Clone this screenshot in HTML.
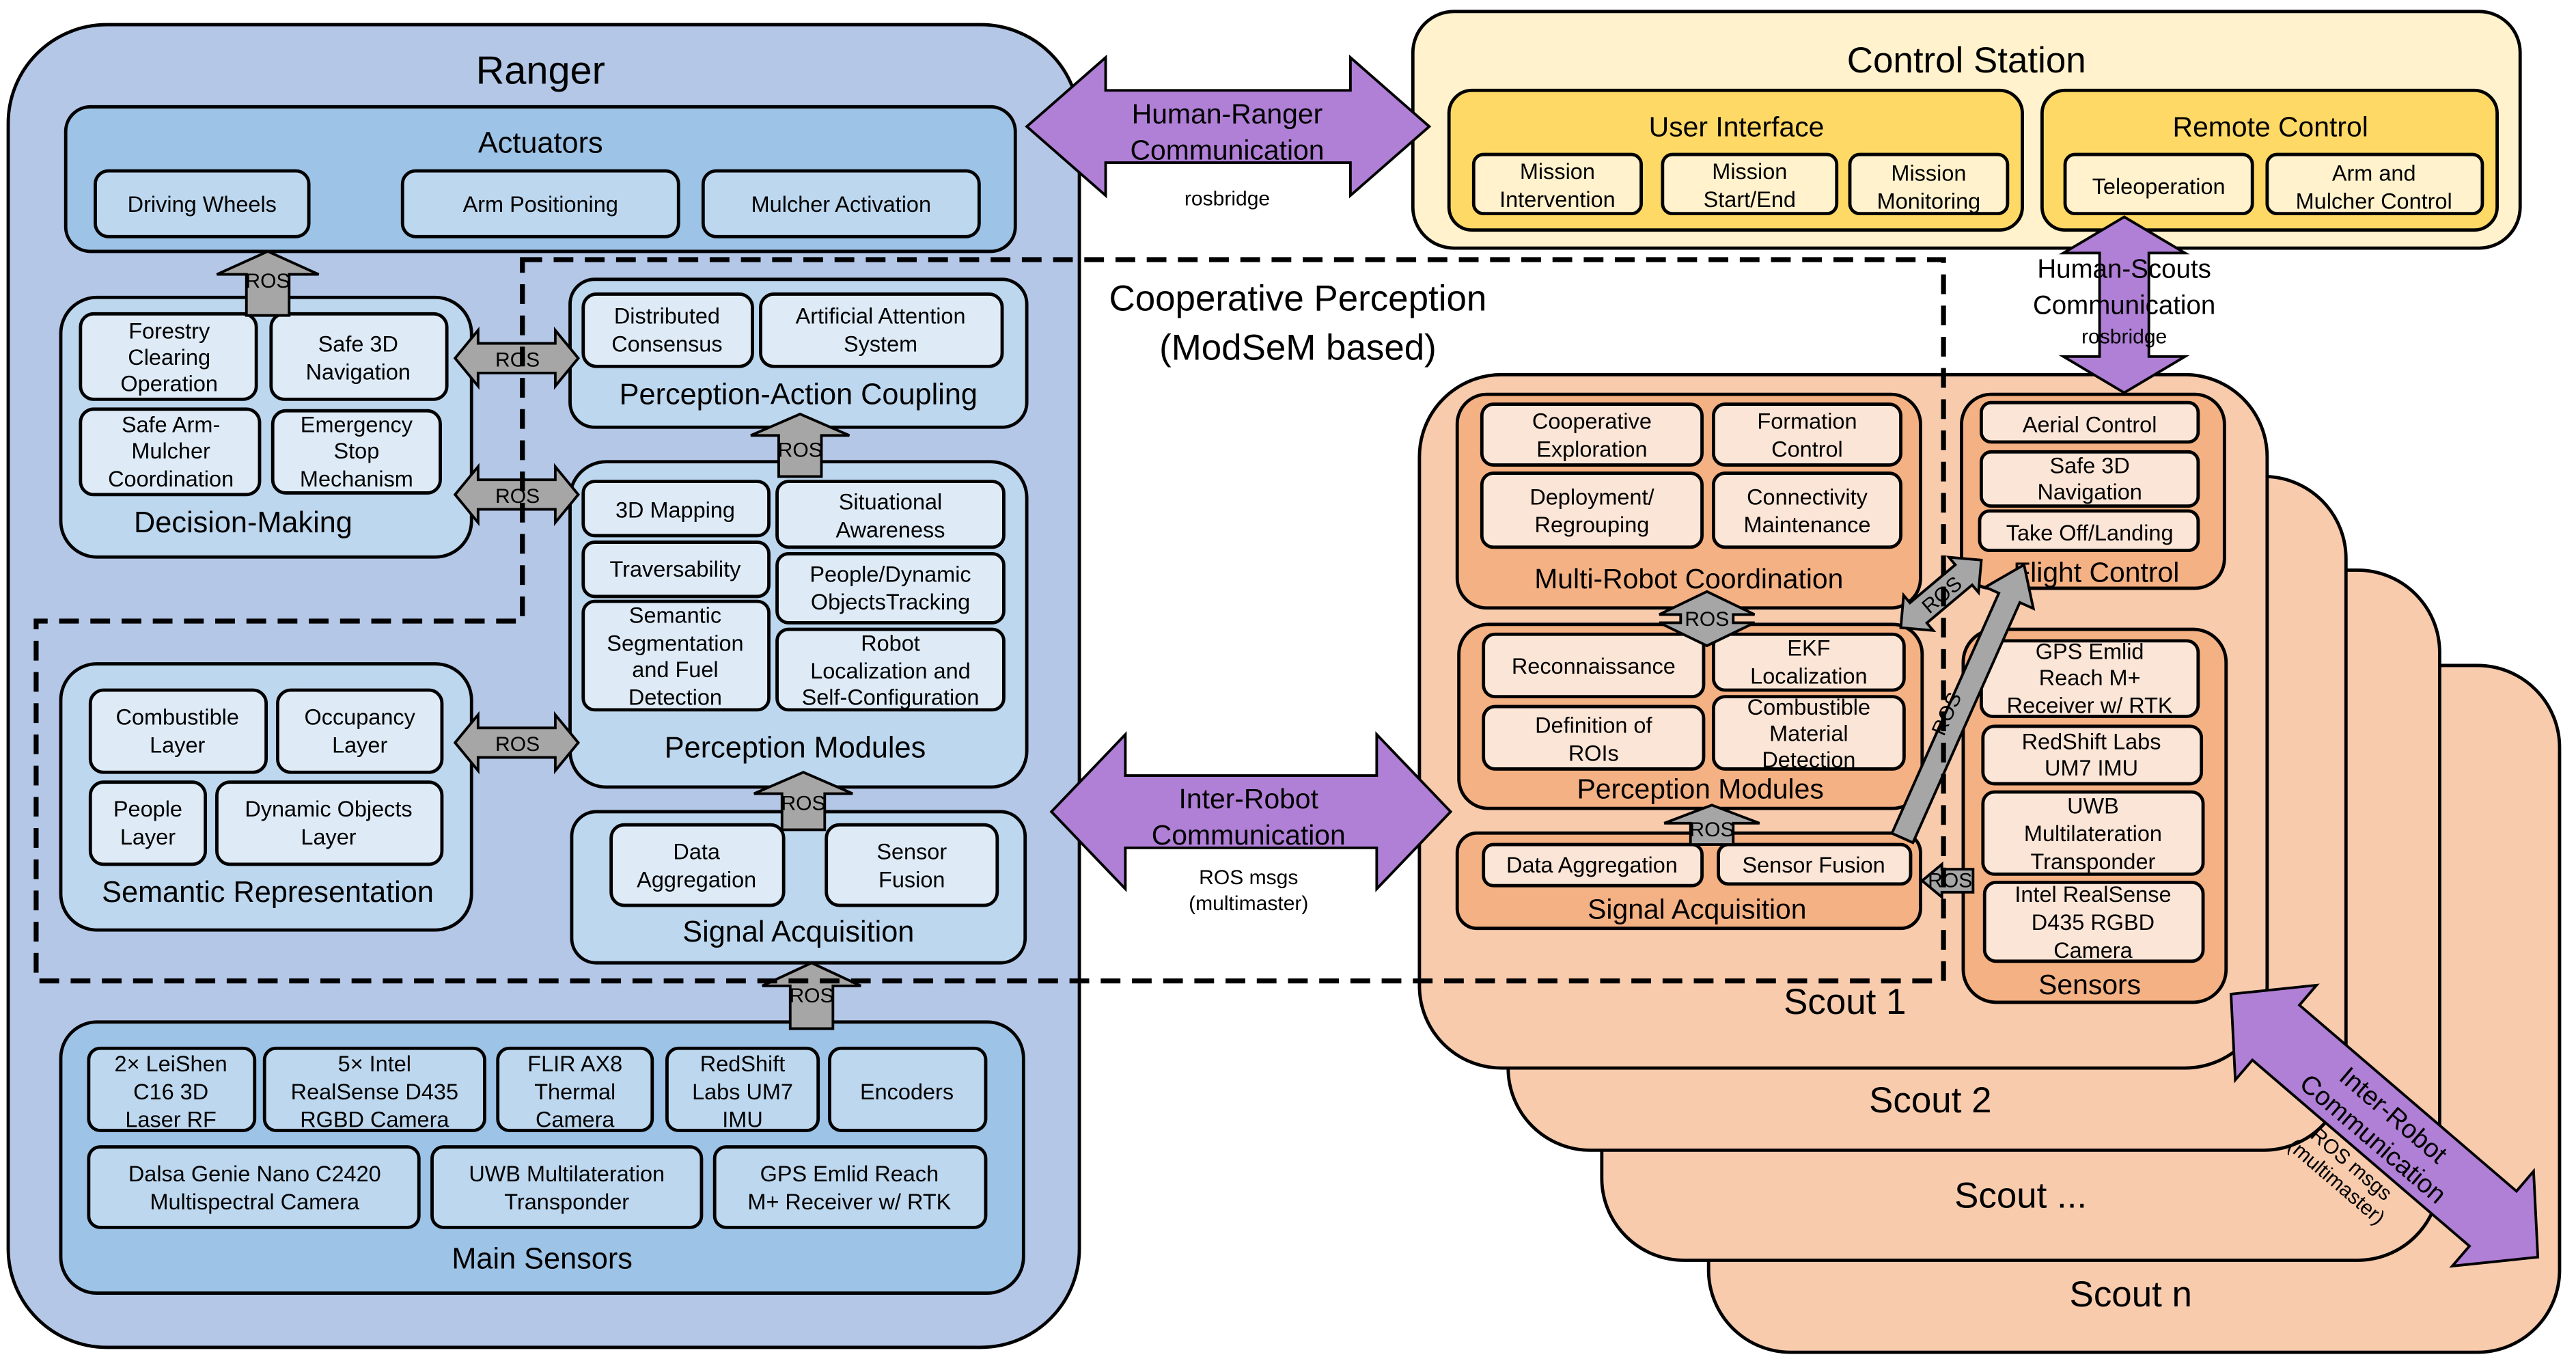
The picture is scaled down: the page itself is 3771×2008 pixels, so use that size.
<!DOCTYPE html>
<html><head><meta charset="utf-8"><style>
html,body{margin:0;padding:0;background:#fff}
svg{display:block}
text{font-family:"Liberation Sans",Arial,sans-serif;text-anchor:middle;fill:#000}
.i{font-size:13.5px}
.t{font-size:18px}
.r{font-size:12.5px}
rect{stroke:#000;stroke-width:2}
.a{fill:#a6a6a6;stroke:#000;stroke-width:1.6}
.p{fill:#b07fd6;stroke:#000;stroke-width:1.6}
</style></head><body>
<svg width="3771" height="2008" viewBox="0 0 1568 835" preserveAspectRatio="none" xmlns="http://www.w3.org/2000/svg">
<!-- Scouts stack -->
<rect x="1040" y="405" width="518" height="418" rx="50" fill="#f8cbad"/>
<rect x="975" y="347" width="510" height="420" rx="50" fill="#f8cbad"/>
<rect x="918" y="290" width="510" height="410" rx="50" fill="#f8cbad"/>
<rect x="864" y="228" width="516" height="422" rx="50" fill="#f8cbad"/>
<text x="1297" y="795" style="font-size:22px">Scout n</text>
<text x="1230" y="735" style="font-size:22px">Scout ...</text>
<text x="1175" y="677" style="font-size:22px">Scout 2</text>
<text x="1123" y="617" style="font-size:22px">Scout 1</text>

<!-- Ranger -->
<rect x="5" y="15" width="652" height="805" rx="60" fill="#b4c7e7"/>
<text x="329" y="51" style="font-size:24px">Ranger</text>
<rect x="40" y="65" width="578" height="88" rx="15" fill="#9dc3e6"/>
<text x="329" y="93" class="t">Actuators</text>
<rect x="58" y="104" width="130" height="40" rx="8" fill="#bdd7ee"/><text x="123" y="129" class="i">Driving Wheels</text>
<rect x="245" y="104" width="168" height="40" rx="8" fill="#bdd7ee"/><text x="329" y="129" class="i">Arm Positioning</text>
<rect x="428" y="104" width="168" height="40" rx="8" fill="#bdd7ee"/><text x="512" y="129" class="i">Mulcher Activation</text>

<rect x="37" y="181" width="250" height="158" rx="22" fill="#bdd7ee"/>
<rect x="49" y="191" width="107" height="52" rx="8" fill="#deebf7"/><text class="i" y="206"><tspan x="103">Forestry</tspan><tspan x="103" dy="16">Clearing</tspan><tspan x="103" dy="16">Operation</tspan></text>
<rect x="165" y="191" width="107" height="52" rx="8" fill="#deebf7"/><text class="i" y="214"><tspan x="218">Safe 3D</tspan><tspan x="218" dy="17">Navigation</tspan></text>
<rect x="49" y="249" width="109" height="52" rx="8" fill="#deebf7"/><text class="i" y="263"><tspan x="104">Safe Arm-</tspan><tspan x="104" dy="16">Mulcher</tspan><tspan x="104" dy="17">Coordination</tspan></text>
<rect x="166" y="250" width="102" height="50" rx="8" fill="#deebf7"/><text class="i" y="263"><tspan x="217">Emergency</tspan><tspan x="217" dy="16">Stop</tspan><tspan x="217" dy="17">Mechanism</tspan></text>
<text x="148" y="324" class="t">Decision-Making</text>

<rect x="347" y="170" width="278" height="90" rx="15" fill="#bdd7ee"/>
<rect x="355" y="179" width="103" height="44" rx="8" fill="#deebf7"/><text class="i" y="197"><tspan x="406">Distributed</tspan><tspan x="406" dy="17">Consensus</tspan></text>
<rect x="463" y="179" width="147" height="44" rx="8" fill="#deebf7"/><text class="i" y="197"><tspan x="536">Artificial Attention</tspan><tspan x="536" dy="17">System</tspan></text>
<text x="486" y="246" class="t">Perception-Action Coupling</text>

<rect x="347" y="281" width="278" height="198" rx="22" fill="#bdd7ee"/>
<rect x="355" y="293" width="113" height="33" rx="7" fill="#deebf7"/><text x="411" y="315" class="i">3D Mapping</text>
<rect x="473" y="293" width="138" height="40" rx="7" fill="#deebf7"/><text class="i" y="310"><tspan x="542">Situational</tspan><tspan x="542" dy="17">Awareness</tspan></text>
<rect x="355" y="330" width="113" height="33" rx="7" fill="#deebf7"/><text x="411" y="351" class="i">Traversability</text>
<rect x="473" y="337" width="138" height="42" rx="7" fill="#deebf7"/><text class="i" y="354"><tspan x="542">People/Dynamic</tspan><tspan x="542" dy="17">ObjectsTracking</tspan></text>
<rect x="355" y="366" width="113" height="66" rx="7" fill="#deebf7"/><text class="i" y="379"><tspan x="411">Semantic</tspan><tspan x="411" dy="17">Segmentation</tspan><tspan x="411" dy="16">and Fuel</tspan><tspan x="411" dy="17">Detection</tspan></text>
<rect x="473" y="383" width="138" height="49" rx="7" fill="#deebf7"/><text class="i" y="396"><tspan x="542">Robot</tspan><tspan x="542" dy="17">Localization and</tspan><tspan x="542" dy="16">Self-Configuration</tspan></text>
<text x="484" y="461" class="t">Perception Modules</text>

<rect x="37" y="404" width="250" height="162" rx="22" fill="#bdd7ee"/>
<rect x="55" y="420" width="107" height="50" rx="8" fill="#deebf7"/><text class="i" y="441"><tspan x="108">Combustible</tspan><tspan x="108" dy="17">Layer</tspan></text>
<rect x="169" y="420" width="100" height="50" rx="8" fill="#deebf7"/><text class="i" y="441"><tspan x="219">Occupancy</tspan><tspan x="219" dy="17">Layer</tspan></text>
<rect x="55" y="476" width="70" height="50" rx="8" fill="#deebf7"/><text class="i" y="497"><tspan x="90">People</tspan><tspan x="90" dy="17">Layer</tspan></text>
<rect x="132" y="476" width="137" height="50" rx="8" fill="#deebf7"/><text class="i" y="497"><tspan x="200">Dynamic Objects</tspan><tspan x="200" dy="17">Layer</tspan></text>
<text x="163" y="549" class="t">Semantic Representation</text>

<rect x="348" y="494" width="276" height="92" rx="15" fill="#bdd7ee"/>
<rect x="372" y="502" width="105" height="49" rx="8" fill="#deebf7"/><text class="i" y="523"><tspan x="424">Data</tspan><tspan x="424" dy="17">Aggregation</tspan></text>
<rect x="503" y="502" width="104" height="49" rx="8" fill="#deebf7"/><text class="i" y="523"><tspan x="555">Sensor</tspan><tspan x="555" dy="17">Fusion</tspan></text>
<text x="486" y="573" class="t">Signal Acquisition</text>

<rect x="37" y="622" width="586" height="165" rx="22" fill="#9dc3e6"/>
<rect x="54" y="638" width="101" height="50" rx="7" fill="#bdd7ee"/><text class="i" y="652"><tspan x="104">2× LeiShen</tspan><tspan x="104" dy="17">C16 3D</tspan><tspan x="104" dy="17">Laser RF</tspan></text>
<rect x="161" y="638" width="134" height="50" rx="7" fill="#bdd7ee"/><text class="i" y="652"><tspan x="228">5× Intel</tspan><tspan x="228" dy="17">RealSense D435</tspan><tspan x="228" dy="17">RGBD Camera</tspan></text>
<rect x="303" y="638" width="94" height="50" rx="7" fill="#bdd7ee"/><text class="i" y="652"><tspan x="350">FLIR AX8</tspan><tspan x="350" dy="17">Thermal</tspan><tspan x="350" dy="17">Camera</tspan></text>
<rect x="406" y="638" width="92" height="50" rx="7" fill="#bdd7ee"/><text class="i" y="652"><tspan x="452">RedShift</tspan><tspan x="452" dy="17">Labs UM7</tspan><tspan x="452" dy="17">IMU</tspan></text>
<rect x="505" y="638" width="95" height="50" rx="7" fill="#bdd7ee"/><text x="552" y="669" class="i">Encoders</text>
<rect x="54" y="698" width="201" height="49" rx="7" fill="#bdd7ee"/><text class="i" y="719"><tspan x="155">Dalsa Genie Nano C2420</tspan><tspan x="155" dy="17">Multispectral Camera</tspan></text>
<rect x="263" y="698" width="164" height="49" rx="7" fill="#bdd7ee"/><text class="i" y="719"><tspan x="345">UWB Multilateration</tspan><tspan x="345" dy="17">Transponder</tspan></text>
<rect x="435" y="698" width="165" height="49" rx="7" fill="#bdd7ee"/><text class="i" y="719"><tspan x="517">GPS Emlid Reach</tspan><tspan x="517" dy="17">M+ Receiver w/ RTK</tspan></text>
<text x="330" y="772" class="t">Main Sensors</text>

<!-- Ranger ROS arrows -->
<polygon class="a" points="150,192 150,167 132,167 163,153 194,167 176,167 176,192"/><text x="163" y="175" class="r">ROS</text>
<polygon class="a" points="474,290 474,265 457,265 487,252 517,265 500,265 500,290"/><text x="487" y="278" class="r">ROS</text>
<polygon class="a" points="476,505 476,483 459,483 489,470 519,483 502,483 502,505"/><text x="489" y="493" class="r">ROS</text>
<polygon class="a" points="481,626 481,600 464,600 494,586 524,600 507,600 507,626"/><text x="494" y="610" class="r">ROS</text>
<polygon class="a" points="277,218 291,201 291,209 338,209 338,201 352,218 338,235 338,227 291,227 291,235"/><text x="315" y="223" class="r">ROS</text>
<polygon class="a" points="277,301 291,284 291,292 338,292 338,284 352,301 338,318 338,310 291,310 291,318"/><text x="315" y="306" class="r">ROS</text>
<polygon class="a" points="277,452 291,435 291,443 338,443 338,435 352,452 338,469 338,461 291,461 291,469"/><text x="315" y="457" class="r">ROS</text>

<!-- Control station -->
<rect x="860" y="7" width="674" height="144" rx="25" fill="#fff2cc"/>
<text x="1197" y="44" style="font-size:22px">Control Station</text>
<rect x="882" y="55" width="349" height="85" rx="14" fill="#ffd966"/>
<text x="1057" y="83" style="font-size:17px">User Interface</text>
<rect x="897" y="94" width="102" height="36" rx="6" fill="#fff2cc"/><text class="i" y="109"><tspan x="948">Mission</tspan><tspan x="948" dy="17">Intervention</tspan></text>
<rect x="1012" y="94" width="106" height="36" rx="6" fill="#fff2cc"/><text class="i" y="109"><tspan x="1065">Mission</tspan><tspan x="1065" dy="17">Start/End</tspan></text>
<rect x="1126" y="94" width="96" height="36" rx="6" fill="#fff2cc"/><text class="i" y="110"><tspan x="1174">Mission</tspan><tspan x="1174" dy="17">Monitoring</tspan></text>
<rect x="1243" y="55" width="277" height="85" rx="14" fill="#ffd966"/>
<text x="1382" y="83" style="font-size:17px">Remote Control</text>
<rect x="1257" y="94" width="114" height="36" rx="6" fill="#fff2cc"/><text x="1314" y="118" class="i">Teleoperation</text>
<rect x="1380" y="94" width="131" height="36" rx="6" fill="#fff2cc"/><text class="i" y="110"><tspan x="1445">Arm and</tspan><tspan x="1445" dy="17">Mulcher Control</tspan></text>

<!-- Purple arrows -->
<polygon class="p" points="625,77 673,35 673,55 822,55 822,35 870,77 822,119 822,99 673,99 673,119"/>
<text class="t" y="75" style="font-size:17px"><tspan x="747">Human-Ranger</tspan><tspan x="747" dy="22">Communication</tspan></text>
<text x="747" y="125" class="r">rosbridge</text>
<polygon class="p" points="1293,132 1330,154 1308,154 1308,217 1330,217 1293,239 1256,217 1278,217 1278,154 1256,154"/>
<text class="t" y="169" style="font-size:16px"><tspan x="1293">Human-Scouts</tspan><tspan x="1293" dy="22">Communication</tspan></text>
<text x="1293" y="209" class="r">rosbridge</text>
<polygon class="p" points="640,494 685,447 685,472 838,472 838,447 883,494 838,541 838,516 685,516 685,541"/>
<text class="t" y="492" style="font-size:17px"><tspan x="760">Inter-Robot</tspan><tspan x="760" dy="22">Communication</tspan></text>
<text class="r" y="538"><tspan x="760">ROS msgs</tspan><tspan x="760" dy="16">(multimaster)</tspan></text>
<g transform="translate(1358,605) rotate(40.6)">
<polygon class="p" points="0,0 36,-38 36,-22 210,-22 210,-38 246,0 210,38 210,22 36,22 36,38"/>
<text x="123" y="-3" style="font-size:16px">Inter-Robot</text>
<text x="123" y="16" style="font-size:16px">Communication</text>
<text x="123" y="35" class="r">ROS msgs</text>
<text x="123" y="49" class="r">(multimaster)</text>
</g>

<!-- Cooperative perception -->
<text class="t" y="189" style="font-size:22px"><tspan x="790">Cooperative Perception</tspan><tspan x="790" dy="30">(ModSeM based)</tspan></text>

<!-- Scout 1 contents -->
<rect x="887" y="240" width="282" height="130" rx="18" fill="#f4b183"/>
<rect x="902" y="246" width="134" height="37" rx="7" fill="#fbe5d6"/><text class="i" y="261"><tspan x="969">Cooperative</tspan><tspan x="969" dy="17">Exploration</tspan></text>
<rect x="1043" y="246" width="114" height="37" rx="7" fill="#fbe5d6"/><text class="i" y="261"><tspan x="1100">Formation</tspan><tspan x="1100" dy="17">Control</tspan></text>
<rect x="902" y="288" width="134" height="45" rx="7" fill="#fbe5d6"/><text class="i" y="307"><tspan x="969">Deployment/</tspan><tspan x="969" dy="17">Regrouping</tspan></text>
<rect x="1043" y="288" width="114" height="45" rx="7" fill="#fbe5d6"/><text class="i" y="307"><tspan x="1100">Connectivity</tspan><tspan x="1100" dy="17">Maintenance</tspan></text>
<text x="1028" y="358" style="font-size:17px">Multi-Robot Coordination</text>
<rect x="888" y="380" width="282" height="112" rx="18" fill="#f4b183"/>
<rect x="903" y="386" width="134" height="38" rx="7" fill="#fbe5d6"/><text x="970" y="410" class="i">Reconnaissance</text>
<rect x="1043" y="386" width="116" height="34" rx="7" fill="#fbe5d6"/><text class="i" y="399"><tspan x="1101">EKF</tspan><tspan x="1101" dy="17">Localization</tspan></text>
<rect x="903" y="430" width="134" height="38" rx="7" fill="#fbe5d6"/><text class="i" y="446"><tspan x="970">Definition of</tspan><tspan x="970" dy="17">ROIs</tspan></text>
<rect x="1043" y="424" width="116" height="44" rx="7" fill="#fbe5d6"/><text class="i" y="435"><tspan x="1101">Combustible</tspan><tspan x="1101" dy="16">Material</tspan><tspan x="1101" dy="16">Detection</tspan></text>
<text x="1035" y="486" style="font-size:17px">Perception Modules</text>
<rect x="887" y="507" width="282" height="58" rx="12" fill="#f4b183"/>
<rect x="903" y="514" width="133" height="25" rx="6" fill="#fbe5d6"/><text x="969" y="531" class="i">Data Aggregation</text>
<rect x="1046" y="514" width="117" height="24" rx="6" fill="#fbe5d6"/><text x="1104" y="531" class="i">Sensor Fusion</text>
<text x="1033" y="559" style="font-size:17px">Signal Acquisition</text>
<rect x="1194" y="240" width="160" height="118" rx="18" fill="#f4b183"/>
<rect x="1206" y="245" width="132" height="24" rx="6" fill="#fbe5d6"/><text x="1272" y="263" class="i">Aerial Control</text>
<rect x="1206" y="275" width="132" height="33" rx="6" fill="#fbe5d6"/><text class="i" y="288"><tspan x="1272">Safe 3D</tspan><tspan x="1272" dy="16">Navigation</tspan></text>
<rect x="1205" y="311" width="133" height="24" rx="6" fill="#fbe5d6"/><text x="1272" y="329" class="i">Take Off/Landing</text>
<text x="1276" y="354" style="font-size:17px">Flight Control</text>
<rect x="1195" y="383" width="160" height="227" rx="20" fill="#f4b183"/>
<rect x="1206" y="390" width="132" height="46" rx="7" fill="#fbe5d6"/><text class="i" y="401"><tspan x="1272">GPS Emlid</tspan><tspan x="1272" dy="16">Reach M+</tspan><tspan x="1272" dy="17">Receiver w/ RTK</tspan></text>
<rect x="1207" y="442" width="133" height="35" rx="7" fill="#fbe5d6"/><text class="i" y="456"><tspan x="1273">RedShift Labs</tspan><tspan x="1273" dy="16">UM7 IMU</tspan></text>
<rect x="1207" y="482" width="134" height="50" rx="7" fill="#fbe5d6"/><text class="i" y="495"><tspan x="1274">UWB</tspan><tspan x="1274" dy="17">Multilateration</tspan><tspan x="1274" dy="17">Transponder</tspan></text>
<rect x="1208" y="537" width="133" height="48" rx="7" fill="#fbe5d6"/><text class="i" y="549"><tspan x="1274">Intel RealSense</tspan><tspan x="1274" dy="17">D435 RGBD</tspan><tspan x="1274" dy="17">Camera</tspan></text>
<text x="1272" y="605" style="font-size:17px">Sensors</text>

<!-- Scout ROS arrows -->
<polygon class="a" points="1039,360 1068,374 1055,374 1055,379 1068,379 1039,393 1010,379 1023,379 1023,374 1010,374"/><text x="1039" y="381" class="r">ROS</text>
<polygon class="a" points="1029,514 1029,501 1013,501 1042,490 1071,501 1055,501 1055,514"/><text x="1042" y="509" class="r">ROS</text>
<polygon class="a" points="1170,536 1182,526 1182,529 1201,529 1201,543 1182,543 1182,546"/><text x="1187" y="540" class="r">ROS</text>
<g transform="translate(1157,382) rotate(-40)">
<polygon class="a" points="0,0 14,-14 14,-8 50,-8 50,-14 64,0 50,14 50,8 14,8 14,14"/>
<text x="32" y="5" class="r">ROS</text></g>
<g transform="translate(1158,510) rotate(-66)">
<polygon class="a" points="0,-7 160,-7 160,-16 182,0 160,16 160,7 0,7"/>
<text x="80" y="-2" class="r">ROS</text></g>

<!-- Dashed cooperative perception region -->
<path d="M318,158 H1183 V597 H22 V378 H318 Z" fill="none" stroke="#000" stroke-width="3" stroke-dasharray="12,7"/>
</svg>
</body></html>
